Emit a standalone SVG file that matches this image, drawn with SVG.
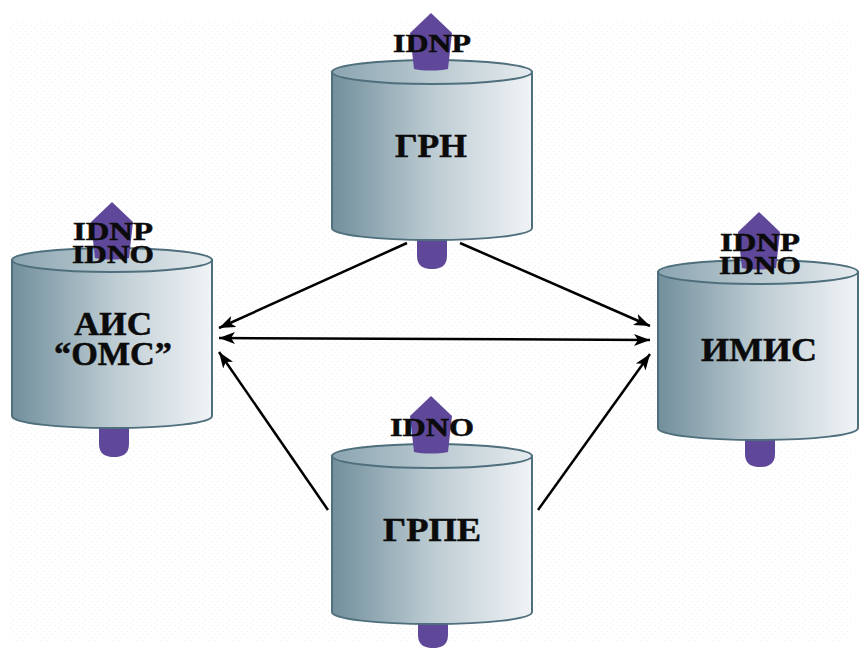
<svg xmlns="http://www.w3.org/2000/svg" width="861" height="648" viewBox="0 0 861 648">
<defs>
<linearGradient id="body" x1="0" x2="1" y1="0" y2="0"><stop offset="0" stop-color="#718f9c"/><stop offset="0.5" stop-color="#bccbd2"/><stop offset="1" stop-color="#f1f4f7"/></linearGradient>
<linearGradient id="lid" x1="0" x2="1" y1="0" y2="0"><stop offset="0" stop-color="#8ba5b1"/><stop offset="1" stop-color="#e6ecef"/></linearGradient>
<pattern id="dots" width="6" height="6" patternUnits="userSpaceOnUse"><rect x="1" y="1" width="1" height="1" fill="#e8f0f2"/><rect x="4" y="4" width="1" height="1" fill="#edf3f5"/></pattern>
<marker id="ah" markerUnits="userSpaceOnUse" markerWidth="18" markerHeight="14" refX="16" refY="7" orient="auto-start-reverse"><path d="M0 1 L16 7 L0 13 L4 7 Z" fill="#000"/></marker>
<g id="cyl">
<path d="M0 0 V156 C0 163 45 168 100 168 C155 168 200 163 200 156 V0 Z" fill="url(#body)" stroke="#4f6f7d" stroke-width="2"/>
<ellipse cx="100" cy="0" rx="100" ry="12" fill="url(#lid)" stroke="#4f6f7d" stroke-width="2"/>
</g>
<path id="arrow" d="M0 0 L-21 20 L-17 56 C-7 58 7 58 17 56 L21 20 Z" fill="#5f4899"/>
<path id="tail" d="M-15 0 V20 C-15 31 -7 33 0 33 C7 33 15 31 15 20 V0 Z" fill="#5f4899"/>
</defs>
<style>
text{font-family:"Liberation Serif","Times New Roman",serif;font-weight:bold;fill:#0b0b0b;stroke:#0b0b0b;stroke-width:.5;text-anchor:middle}
.id{font-size:26px}
.nm{font-size:33px}
.c{stroke:#000;stroke-width:2.5;fill:none;marker-end:url(#ah)}
</style>
<rect width="861" height="648" fill="#fff"/>
<rect x="8" y="20" width="845" height="622" fill="url(#dots)"/>
<g id="connectors">
<line class="c" x1="407" y1="243" x2="219" y2="328"/>
<line class="c" x1="460" y1="243" x2="650" y2="326"/>
<line class="c" x1="219" y1="338" x2="650" y2="340" style="marker-start:url(#ah)"/>
<line class="c" x1="328" y1="510" x2="219" y2="352"/>
<line class="c" x1="538" y1="510" x2="650" y2="354"/>
</g>
<g id="node-grn">
<use href="#tail" x="432" y="236"/>
<use href="#cyl" x="332" y="72"/>
<use href="#arrow" x="431" y="13"/>
<text class="id" x="432" y="52" textLength="78" lengthAdjust="spacingAndGlyphs">IDNP</text>
<text class="nm" x="431" y="157" textLength="72" lengthAdjust="spacingAndGlyphs">ГРН</text>
</g>
<g id="node-ais">
<use href="#tail" x="114" y="424"/>
<use href="#cyl" x="12" y="260"/>
<use href="#arrow" x="112" y="202"/>
<text class="id" x="113" y="240" textLength="80" lengthAdjust="spacingAndGlyphs">IDNP</text>
<text class="id" x="113" y="263" textLength="82" lengthAdjust="spacingAndGlyphs">IDNO</text>
<text class="nm" x="113" y="335" textLength="78" lengthAdjust="spacingAndGlyphs">АИС</text>
<text class="nm" x="113" y="365" textLength="118" lengthAdjust="spacingAndGlyphs">“ОМС”</text>
</g>
<g id="node-imis">
<use href="#tail" x="760" y="434"/>
<use href="#cyl" x="658" y="272"/>
<use href="#arrow" x="759" y="212"/>
<text class="id" x="760" y="251" textLength="80" lengthAdjust="spacingAndGlyphs">IDNP</text>
<text class="id" x="760" y="274" textLength="82" lengthAdjust="spacingAndGlyphs">IDNO</text>
<text class="nm" x="759" y="361" textLength="116" lengthAdjust="spacingAndGlyphs">ИМИС</text>
</g>
<g id="node-grpe">
<use href="#tail" x="433" y="615"/>
<use href="#cyl" x="332" y="456"/>
<use href="#arrow" x="431" y="396"/>
<text class="id" x="432" y="436" textLength="84" lengthAdjust="spacingAndGlyphs">IDNO</text>
<text class="nm" x="432" y="541" textLength="98" lengthAdjust="spacingAndGlyphs">ГРПЕ</text>
</g>
</svg>
